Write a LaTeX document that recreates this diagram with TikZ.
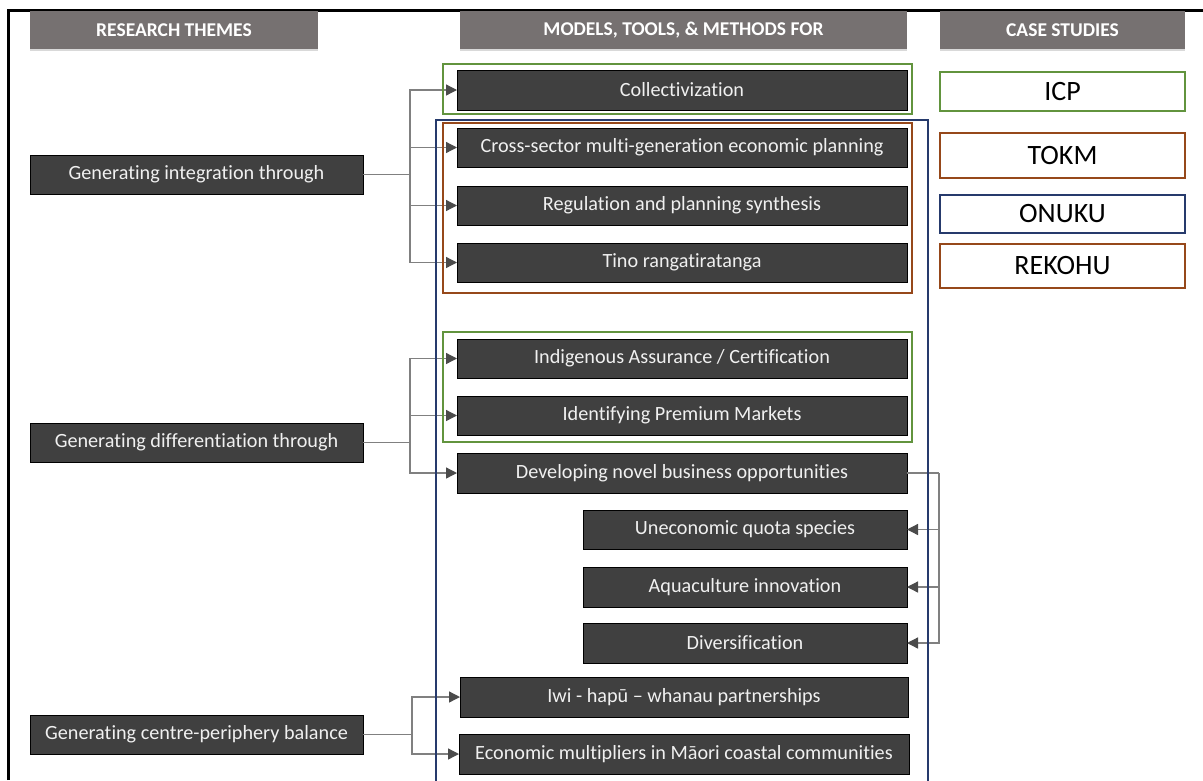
\documentclass[tikz,border=0pt]{standalone}
\usepackage{fontspec}
\setmainfont{Carlito}[Ligatures=NoCommon]
\usetikzlibrary{arrows.meta}
\definecolor{hdr}{RGB}{118,113,113}
\definecolor{nodefill}{RGB}{64,64,64}
\definecolor{cgreen}{RGB}{98,148,62}
\definecolor{cbrown}{RGB}{150,72,26}
\definecolor{cblue}{RGB}{38,58,108}
\definecolor{conncol}{RGB}{128,128,128}
\definecolor{tipcol}{RGB}{75,75,75}
\begin{document}
\begin{tikzpicture}[x=1pt,y=-1pt,
  hdrbox/.style={fill=hdr, draw=none, anchor=north west, inner sep=0pt, outer sep=0pt,
    text=white, font=\fontsize{19.5}{22}\selectfont\bfseries},
  box/.style={fill=nodefill, draw=black, line width=0.8pt, anchor=north west, inner sep=0pt, outer sep=0pt,
    text=white!94!black, font=\fontsize{20.2}{23}\selectfont},
  casebox/.style={fill=white, line width=1.8pt, anchor=north west, inner sep=0pt, outer sep=0pt,
    text=black, font=\fontsize{28}{32}\selectfont},
  conn/.style={draw=conncol, line width=1.3pt},
  arr/.style={conn, -{Triangle[length=11pt,width=11pt,color=tipcol]}},
  grp/.style={line width=1.8pt}
]
\useasboundingbox (0,0) rectangle (1203,780);
\fill[white] (0,0) rectangle (1203,780);

% frame
\draw[line width=3pt] (8,780) -- (8,10) -- (1203,10);

% headers
\node[hdrbox, minimum width=288pt, minimum height=39pt] (h1) at (30,11) {RESEARCH THEMES};
\node[hdrbox, minimum width=447pt, minimum height=39pt] (h2) at (460,11) {MODELS, TOOLS, \& METHODS FOR};
\node[hdrbox, minimum width=245pt, minimum height=39pt] (h3) at (940,11) {CASE STUDIES};
\foreach \h in {h1,h2,h3}{\draw[gray!30, line width=1.2pt] (\h.south west) -- (\h.south east);}

% research themes
\node[box, minimum width=333pt, minimum height=39pt] (g1) at (30,155) {Generating integration through};
\node[box, minimum width=333pt, minimum height=39pt] (g2) at (30,423) {Generating differentiation through};
\node[box, minimum width=333pt, minimum height=39pt] (g3) at (30,715) {Generating centre-periphery balance};

% models
\node[box, minimum width=450pt, minimum height=40pt] (m1) at (457,70) {Collectivization};
\node[box, minimum width=450pt, minimum height=39pt] (m2) at (457,128) {Cross-sector multi-generation economic planning};
\node[box, minimum width=450pt, minimum height=39pt] (m3) at (457,186) {Regulation and planning synthesis};
\node[box, minimum width=450pt, minimum height=39pt] (m4) at (457,243) {Tino rangatiratanga};
\node[box, minimum width=450pt, minimum height=39pt] (m5) at (457,339) {Indigenous Assurance / Certification};
\node[box, minimum width=450pt, minimum height=39pt] (m6) at (457,396) {Identifying Premium Markets};
\node[box, minimum width=450pt, minimum height=40pt] (m7) at (457,453) {Developing novel business opportunities};
\node[box, minimum width=324pt, minimum height=39pt] (s1) at (583,510) {Uneconomic quota species};
\node[box, minimum width=324pt, minimum height=40pt] (s2) at (583,567) {Aquaculture innovation};
\node[box, minimum width=324pt, minimum height=40pt] (s3) at (583,623) {Diversification};
\node[box, minimum width=448pt, minimum height=40pt] (m8) at (460,677) {Iwi - hapū – whanau partnerships};
\node[box, minimum width=450pt, minimum height=40pt] (m9) at (459,734) {Economic multipliers in Māori coastal communities};

% connectors
\coordinate (j1) at (410,174.5);
\coordinate (j2) at (410,442.5);
\coordinate (j3) at (412,734.5);
\coordinate (j4) at (939,473);
\draw[conn] (g1.east) -- (j1);
\foreach \t in {m1,m2,m3,m4}{\draw[arr] (j1) |- (\t.west);}
\draw[conn] (g2.east) -- (j2);
\foreach \t in {m5,m6,m7}{\draw[arr] (j2) |- (\t.west);}
\draw[conn] (g3.east) -- (j3);
\foreach \t in {m8,m9}{\draw[arr] (j3) |- (\t.west);}
\draw[conn] (m7.east) -- (j4);
\foreach \t in {s1,s2,s3}{\draw[arr] (j4) |- (\t.east);}

% case-study groupings
\draw[grp, cgreen] (443,64) rectangle (912,114);
\draw[grp, cbrown] (443,123) rectangle (912,293);
\draw[grp, cgreen] (443,332) rectangle (912,442);
\draw[grp, cblue] (436,781) -- (436,120) -- (928,120) -- (928,781);

% case studies
\node[casebox, draw=cgreen, minimum width=245pt, minimum height=39pt] (c1) at (940,72) {ICP};
\node[casebox, draw=cbrown, minimum width=245pt, minimum height=45pt] (c2) at (940,133) {TOKM};
\node[casebox, draw=cblue, minimum width=245pt, minimum height=38pt] (c3) at (940,195) {ONUKU};
\node[casebox, draw=cbrown, minimum width=245pt, minimum height=44pt] (c4) at (940,244) {REKOHU};
\end{tikzpicture}
\end{document}
